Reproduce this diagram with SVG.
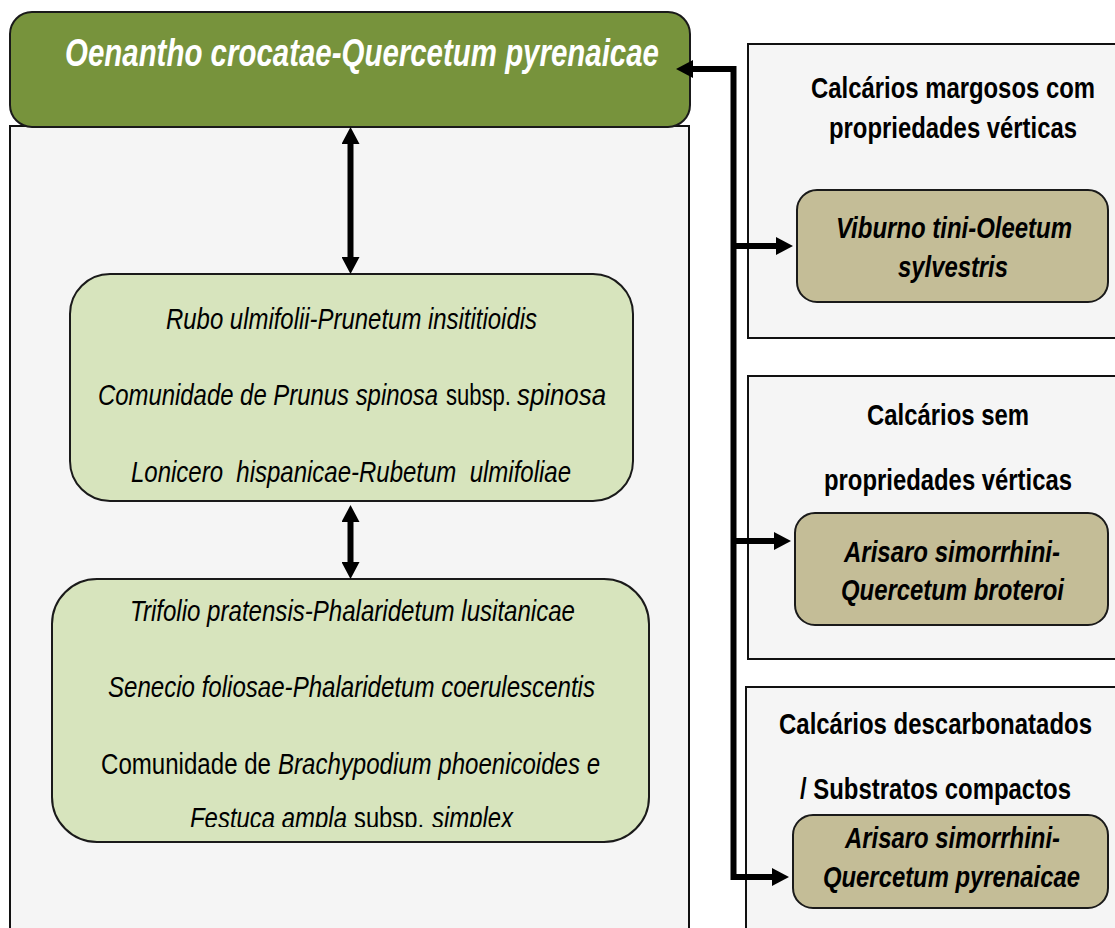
<svg xmlns="http://www.w3.org/2000/svg" width="1115" height="928" viewBox="0 0 1115 928">
  <style>
    .panel { fill: #f5f5f5; stroke: #111; stroke-width: 2; }
    .head { fill: #77933c; stroke: #1a1a1a; stroke-width: 2; }
    .veg { fill: #d7e4bd; stroke: #1a1a1a; stroke-width: 2; }
    .assoc { fill: #c4bd97; stroke: #1a1a1a; stroke-width: 2; }
    text { font-family: "Liberation Sans Narrow", "Liberation Sans", Arial, sans-serif; fill: #000; }
    .title { font-size: 38px; font-weight: bold; font-style: italic; fill: #fff; }
    .list { font-size: 29px; font-style: italic; }
    .up { font-style: normal; }
    .sub { font-size: 30px; font-weight: bold; }
    .name { font-size: 30px; font-weight: bold; font-style: italic; }
    .wire { fill: none; stroke: #000; stroke-width: 6; stroke-linejoin: miter; }
  </style>
  <defs>
    <marker id="head" viewBox="0 0 17 18" refX="1" refY="9" markerWidth="17" markerHeight="18" markerUnits="userSpaceOnUse" orient="auto-start-reverse">
      <path d="M0,0 L17,9 L0,18 z" fill="#000"/>
    </marker>
    <clipPath id="clip-grass">
      <rect x="40" y="570" width="620" height="257"/>
    </clipPath>
  </defs>

  <!-- left column -->
  <g id="panel-left">
    <rect class="panel" x="10" y="126" width="679" height="812"/>
  </g>
  <g id="node-oenantho">
    <rect class="head" x="10" y="12" width="680" height="115" rx="22"/>
    <text class="title" x="65" y="66" textLength="594" lengthAdjust="spacingAndGlyphs">Oenantho crocatae-Quercetum pyrenaicae</text>
  </g>
  <g id="node-shrubs">
    <rect class="veg" x="70" y="274" width="563" height="227" rx="40"/>
    <text class="list" x="166" y="329" textLength="371" lengthAdjust="spacingAndGlyphs">Rubo ulmifolii-Prunetum insititioidis</text>
    <text class="list" x="98" y="405" textLength="340" lengthAdjust="spacingAndGlyphs">Comunidade de Prunus spinosa</text>
    <text class="list up" x="446" y="405" textLength="65" lengthAdjust="spacingAndGlyphs">subsp.</text>
    <text class="list" x="517" y="405" textLength="89" lengthAdjust="spacingAndGlyphs">spinosa</text>
    <text class="list" x="131" y="482" textLength="440" lengthAdjust="spacingAndGlyphs" xml:space="preserve">Lonicero  hispanicae-Rubetum  ulmifoliae</text>
  </g>
  <g id="node-grassland">
    <rect class="veg" x="52" y="579" width="597" height="263" rx="45"/>
    <text class="list" x="130" y="621" textLength="445" lengthAdjust="spacingAndGlyphs">Trifolio pratensis-Phalaridetum lusitanicae</text>
    <text class="list" x="108" y="697" textLength="487" lengthAdjust="spacingAndGlyphs">Senecio foliosae-Phalaridetum coerulescentis</text>
    <text class="list up" x="101" y="774" textLength="170" lengthAdjust="spacingAndGlyphs">Comunidade de</text>
    <text class="list" x="278" y="774" textLength="322" lengthAdjust="spacingAndGlyphs">Brachypodium phoenicoides e</text>
    <g clip-path="url(#clip-grass)">
      <text class="list" x="190" y="828" textLength="157" lengthAdjust="spacingAndGlyphs">Festuca ampla</text>
      <text class="list up" x="354" y="828" textLength="70" lengthAdjust="spacingAndGlyphs">subsp.</text>
      <text class="list" x="432" y="828" textLength="81" lengthAdjust="spacingAndGlyphs">simplex</text>
    </g>
  </g>

  <!-- right column: substrates -->
  <g id="node-margosos">
    <rect class="panel" x="748" y="44" width="380" height="294"/>
    <text class="sub" x="811" y="98" textLength="284" lengthAdjust="spacingAndGlyphs">Calcários margosos com</text>
    <text class="sub" x="829" y="138" textLength="248" lengthAdjust="spacingAndGlyphs">propriedades vérticas</text>
    <g id="node-viburno">
      <rect class="assoc" x="797" y="190" width="311" height="112" rx="20"/>
      <text class="name" x="836" y="238" textLength="236" lengthAdjust="spacingAndGlyphs">Viburno tini-Oleetum</text>
      <text class="name" x="898" y="277" textLength="110" lengthAdjust="spacingAndGlyphs">sylvestris</text>
    </g>
  </g>
  <g id="node-sem">
    <rect class="panel" x="748" y="376" width="380" height="283"/>
    <text class="sub" x="867" y="425" textLength="162" lengthAdjust="spacingAndGlyphs">Calcários sem</text>
    <text class="sub" x="824" y="490" textLength="248" lengthAdjust="spacingAndGlyphs">propriedades vérticas</text>
    <g id="node-broteroi">
      <rect class="assoc" x="795" y="513" width="313" height="112" rx="20"/>
      <text class="name" x="844" y="562" textLength="216" lengthAdjust="spacingAndGlyphs">Arisaro simorrhini-</text>
      <text class="name" x="841" y="600" textLength="223" lengthAdjust="spacingAndGlyphs">Quercetum broteroi</text>
    </g>
  </g>
  <g id="node-descarbonatados">
    <rect class="panel" x="746" y="687" width="380" height="260"/>
    <text class="sub" x="779" y="734" textLength="313" lengthAdjust="spacingAndGlyphs">Calcários descarbonatados</text>
    <text class="sub" x="800" y="799" textLength="271" lengthAdjust="spacingAndGlyphs">/ Substratos compactos</text>
    <g id="node-pyrenaicae">
      <rect class="assoc" x="793" y="815" width="315" height="93" rx="20"/>
      <text class="name" x="845" y="848" textLength="215" lengthAdjust="spacingAndGlyphs">Arisaro simorrhini-</text>
      <text class="name" x="823" y="887" textLength="257" lengthAdjust="spacingAndGlyphs">Quercetum pyrenaicae</text>
    </g>
  </g>

  <!-- connectors -->
  <g id="connectors">
    <path class="wire" d="M350.5,143 V258" marker-start="url(#head)" marker-end="url(#head)"/>
    <path class="wire" d="M350.5,521 V563" marker-start="url(#head)" marker-end="url(#head)"/>
    <path class="wire" d="M692,69 H733.5 V877 H773" marker-start="url(#head)" marker-end="url(#head)"/>
    <path class="wire" d="M733.5,246 H777" marker-end="url(#head)"/>
    <path class="wire" d="M733.5,541 H775" marker-end="url(#head)"/>
  </g>
</svg>
